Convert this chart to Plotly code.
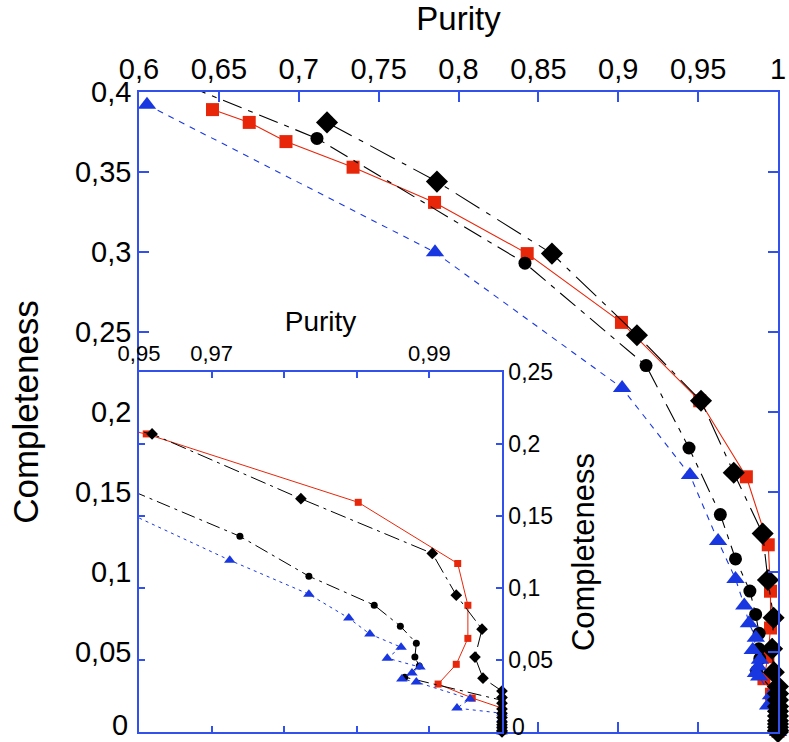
import plotly.graph_objects as go

# ---------------- data (purity, completeness) ----------------
red_purity = [0.646, 0.669, 0.692, 0.734, 0.785, 0.843, 0.902, 0.951, 0.9802,
              0.9939, 0.9953, 0.9953, 0.9937, 0.9912, 0.9959,
              1.0, 1.0, 1.0, 1.0, 1.0, 1.0]
red_compl = [0.389, 0.381, 0.369, 0.353, 0.331, 0.299, 0.256, 0.207, 0.1595,
             0.117, 0.088, 0.065, 0.047, 0.0333, 0.0236,
             0.0166, 0.011, 0.007, 0.004, 0.002, 0.0005]

circ_purity = [0.63, 0.7114, 0.8416, 0.9174, 0.9443, 0.9639, 0.9734, 0.9824,
               0.9860, 0.9882, 0.9880, 0.9886, 0.9866,
               1.0, 1.0, 1.0, 1.0, 1.0, 1.0, 1.0]
circ_compl = [0.404, 0.371, 0.293, 0.229, 0.1775, 0.1359, 0.1082, 0.0881,
              0.0735, 0.0617, 0.0520, 0.0458, 0.0381,
              0.022, 0.016, 0.012, 0.008, 0.005, 0.003, 0.001]

tri_purity = [0.605, 0.7853, 0.9024, 0.9449, 0.9625, 0.9734, 0.9789, 0.9818,
              0.9861, 0.9842, 0.9887, 0.9876, 0.9862, 0.9882, 0.9956, 0.9938,
              1.0, 1.0, 1.0, 1.0, 1.0]
tri_compl = [0.392, 0.2998, 0.215, 0.1606, 0.1193, 0.0957, 0.0791, 0.0680,
             0.0589, 0.0513, 0.0451, 0.0409, 0.0368, 0.0347, 0.0229, 0.0166,
             0.013, 0.009, 0.005, 0.002, 0.0]

dia_purity = [0.7177, 0.7865, 0.8585, 0.9117, 0.9518, 0.9723, 0.9904, 0.9937,
              0.99725, 0.99628, 0.99738,
              1.0, 1.0, 1.0, 1.0, 1.0, 1.0, 1.0, 1.0, 1.0, 1.0, 1.0]
dia_compl = [0.381, 0.344, 0.299, 0.248, 0.207, 0.162, 0.124, 0.095,
             0.0714, 0.0520, 0.0374,
             0.0284, 0.024, 0.020, 0.016, 0.013, 0.010, 0.007, 0.005, 0.003, 0.001, 0.0]

main_x_ticks = [0.6, 0.65, 0.7, 0.75, 0.8, 0.85, 0.9, 0.95, 1.0]
main_y_ticks = [0.0, 0.05, 0.1, 0.15, 0.2, 0.25, 0.3, 0.35, 0.4]
main_y_text = ["", "0,05", "0,1", "0,15", "0,2", "0,25", "0,3", "0,35", "0,4"]
inset_x_tickvals = [0.95, 0.96, 0.97, 0.98, 0.99, 1.0]
inset_x_ticktext = ["0,95", "0,97", "", "", "0,99", ""]
inset_y_ticks = [0.0, 0.05, 0.1, 0.15, 0.2, 0.25]
inset_y_text = ["", "0,05", "0,1", "0,15", "0,2", "0,25"]
zero_label = "0"

# ---------------- styles ----------------
RED = "rgb(232,38,10)"
BLUE = "rgb(25,55,225)"
BLACK = "black"
FRAME = "rgb(50,80,235)"
FONT = "Liberation Sans, Arial, Helvetica, sans-serif"

series = [
    dict(p=red_purity, c=red_compl, color=RED, symbol="square",
         ms=(13, 7), dash=("solid", "solid")),
    dict(p=circ_purity, c=circ_compl, color=BLACK, symbol="circle",
         ms=(13, 7), dash=("20px,7px,5px,7px", "14px,5px,3px,5px")),
    dict(p=tri_purity, c=tri_compl, color=BLUE, symbol="triangle-up",
         ms=(16, 10), dash=("6px,6px", "3px,4px")),
    dict(p=dia_purity, c=dia_compl, color=BLACK, symbol="diamond",
         ms=(17, 9), dash=("28px,8px,5px,8px", "16px,5px,3px,5px")),
]

fig = go.Figure()
for s in series:
    # main panel
    fig.add_trace(go.Scatter(
        x=s["p"], y=s["c"], mode="lines+markers", xaxis="x", yaxis="y",
        line=dict(color=s["color"], width=1.1, dash=s["dash"][0]),
        marker=dict(symbol=s["symbol"], size=s["ms"][0], color=s["color"],
                    line=dict(width=0)),
        cliponaxis=False, showlegend=False))
    # inset panel
    fig.add_trace(go.Scatter(
        x=s["p"], y=s["c"], mode="lines+markers", xaxis="x2", yaxis="y2",
        line=dict(color=s["color"], width=1, dash=s["dash"][1]),
        marker=dict(symbol=s["symbol"], size=s["ms"][1], color=s["color"],
                    line=dict(width=0)),
        cliponaxis=False, showlegend=False))

axis_common = dict(showgrid=False, zeroline=False, showline=True,
                   linecolor=FRAME, linewidth=1.5, ticks="inside",
                   tickcolor=FRAME, tickwidth=1.5, mirror="allticks",
                   automargin=False)

# "0" labels at the bottom edge, nudged up so they stay inside the page
fig.add_annotation(text=zero_label, xref="paper", x=0, yref="y", y=main_y_ticks[0],
                   xanchor="right", yanchor="middle", xshift=-9, yshift=7,
                   showarrow=False, font=dict(size=29))
fig.add_annotation(text=zero_label, xref="x2", x=inset_x_tickvals[-1], yref="y2",
                   y=inset_y_ticks[0], xanchor="left", yanchor="middle",
                   xshift=8, yshift=5, showarrow=False, font=dict(size=23))

fig.update_layout(
    width=789, height=742,
    margin=dict(l=139, r=11, t=92, b=10, autoexpand=False),
    paper_bgcolor="white", plot_bgcolor="white",
    separators=", ",
    font=dict(family=FONT, color="black"),
    xaxis=dict(domain=[0, 1], range=[0.6, 1.0], side="top", anchor="y",
               tickvals=main_x_ticks, ticklen=10,
               tickfont=dict(size=29),
               title=dict(text="Purity", font=dict(size=33), standoff=14),
               **axis_common),
    yaxis=dict(domain=[0, 1], range=[0, 0.4], tickvals=main_y_ticks,
               ticktext=main_y_text,
               anchor="x", ticklen=10, tickfont=dict(size=29),
               title=dict(text="Completeness", font=dict(size=35), standoff=26),
               **axis_common),
    xaxis2=dict(domain=[0, 363 / 639], range=[0.95, 1.0], side="top",
                anchor="y2", tickvals=inset_x_tickvals,
                ticktext=inset_x_ticktext, ticklen=6,
                tickfont=dict(size=22),
                title=dict(text="Purity", font=dict(size=28), standoff=2),
                **axis_common),
    yaxis2=dict(domain=[0, 360 / 640], range=[0, 0.25], tickvals=inset_y_ticks,
                ticktext=inset_y_text,
                side="right", anchor="x2", ticklen=6,
                tickfont=dict(size=23),
                title=dict(text="Completeness", font=dict(size=31), standoff=20),
                **axis_common),
)

fig.write_html("out.html")
